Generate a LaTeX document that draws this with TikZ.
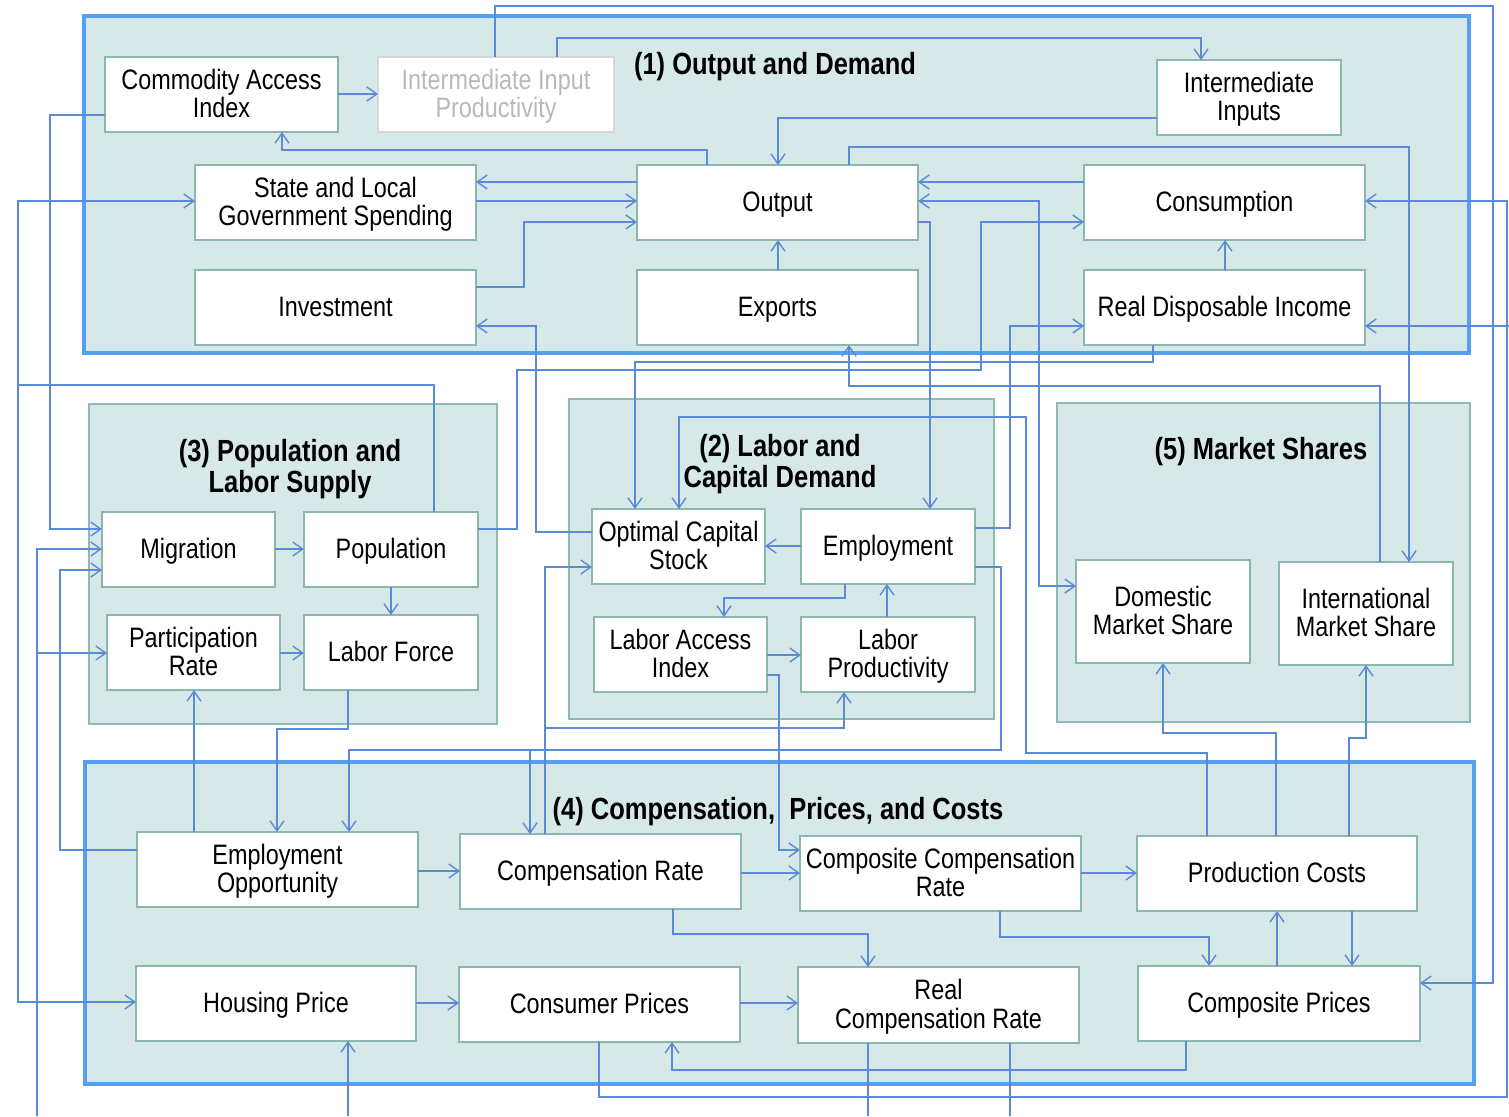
\documentclass[tikz,border=0pt]{standalone}
\usepackage{fontspec}
\setmainfont{Liberation Sans}
\usepackage{graphicx}
\usetikzlibrary{arrows.meta}
\definecolor{wire}{RGB}{91,138,214}
\definecolor{gfill}{RGB}{215,232,232}
\definecolor{gline}{RGB}{143,186,179}
\definecolor{bblue}{RGB}{85,160,240}
\definecolor{nline}{RGB}{138,184,174}
\definecolor{ghost}{RGB}{185,185,185}
\definecolor{ghostline}{RGB}{215,215,215}
\newcommand\txt[1]{\raisebox{-1.5pt}[\height][\depth]{\scalebox{1}[1.2]{\begin{tabular}{@{}c@{}}#1\end{tabular}}}}
\newcommand\ttl[1]{\raisebox{-2pt}[\height][\depth]{\scalebox{1}[1.2]{\begin{tabular}{@{}c@{}}#1\end{tabular}}}}
\newcommand\mybox[7]{\node[box,#6,minimum width={(#4-#2)*0.5pt},minimum height={(#5-#3)*0.5pt}] (#1) at ({(#2+#4)/2},{(#3+#5)/2}) {\txt{#7}};}
\newcommand\grp[6]{\node[#6,minimum width={(#4-#2)*0.5pt},minimum height={(#5-#3)*0.5pt}] (#1) at ({(#2+#4)/2},{(#3+#5)/2}) {};}
\tikzset{
  box/.style={draw=nline,fill=white,line width=0.8pt,inner sep=0pt,outer sep=0pt,
    font=\fontsize{11.7}{11.25}\selectfont},
  ghostbox/.style={draw=ghostline,text=ghost},
  grpthin/.style={draw=gline,fill=gfill,line width=0.9pt,inner sep=0pt,outer sep=0pt},
  grpthick/.style={draw=bblue,fill=gfill,line width=1.7pt,inner sep=0pt,outer sep=0pt},
  title/.style={font=\bfseries\fontsize{12.75}{12.5}\selectfont,inner sep=0pt},
  w/.style={draw=wire,line width=0.7pt},
  ar/.style={w,-{Straight Barb[length=5pt,width=7pt]}},
  arb/.style={w,{Straight Barb[length=5pt,width=7pt]}-{Straight Barb[length=5pt,width=7pt]}}
}
\begin{document}
\begin{tikzpicture}[x=0.5pt,y=-0.5pt]
\useasboundingbox[fill=white] (0,0) rectangle (1509,1116);
% groups
\grp{g1}{84}{16}{1469}{353}{grpthick}
\grp{g3}{89}{404}{497}{724}{grpthin}
\grp{g2}{569}{399}{994}{719}{grpthin}
\grp{g5}{1057}{403}{1470}{722}{grpthin}
\grp{g4}{85}{762}{1474}{1084}{grpthick}
% titles
\node[title] (t1) at (775,64) {\ttl{(1) Output and Demand}};
\node[title] (t3) at (290,466) {\ttl{(3) Population and\\Labor Supply}};
\node[title] (t2) at (780,461) {\ttl{(2) Labor and\\Capital Demand}};
\node[title] (t5) at (1261,449) {\ttl{(5) Market Shares}};
\node[title] (t4) at (778,809) {\ttl{(4) Compensation,\ \ Prices, and Costs}};
% nodes
\mybox{cai}{105}{57}{338}{132}{}{Commodity Access\\Index}
\mybox{iip}{378}{57}{614}{132}{ghostbox}{Intermediate Input\\Productivity}
\mybox{ii}{1157}{60}{1341}{135}{}{Intermediate\\Inputs}
\mybox{slgs}{195}{165}{476}{240}{}{State and Local\\Government Spending}
\mybox{out}{637}{165}{918}{240}{}{Output}
\mybox{cons}{1084}{165}{1365}{240}{}{Consumption}
\mybox{inv}{195}{270}{476}{345}{}{Investment}
\mybox{exp}{637}{270}{918}{345}{}{Exports}
\mybox{rdi}{1084}{270}{1365}{345}{}{Real Disposable Income}
\mybox{mig}{102}{512}{275}{587}{}{Migration}
\mybox{pop}{304}{512}{478}{587}{}{Population}
\mybox{pr}{107}{615}{280}{690}{}{Participation\\Rate}
\mybox{lf}{304}{615}{478}{690}{}{Labor Force}
\mybox{ocs}{592}{509}{765}{584}{}{Optimal Capital\\Stock}
\mybox{emp}{801}{509}{975}{584}{}{Employment}
\mybox{lai}{594}{617}{767}{692}{}{Labor Access\\Index}
\mybox{lp}{801}{617}{975}{692}{}{Labor\\Productivity}
\mybox{dms}{1076}{560}{1250}{663}{}{Domestic\\Market Share}
\mybox{ims}{1279}{562}{1453}{665}{}{International\\Market Share}
\mybox{eo}{137}{832}{418}{907}{}{Employment\\Opportunity}
\mybox{cr}{460}{834}{741}{909}{}{Compensation Rate}
\mybox{ccr}{800}{836}{1081}{911}{}{Composite Compensation\\Rate}
\mybox{pc}{1137}{836}{1417}{911}{}{Production Costs}
\mybox{hp}{136}{966}{416}{1041}{}{Housing Price}
\mybox{cp}{459}{967}{740}{1042}{}{Consumer Prices}
\mybox{rcr}{798}{967}{1079}{1043}{}{Real\\Compensation Rate}
\mybox{cpr}{1138}{966}{1420}{1041}{}{Composite Prices}
% free ends at the picture edge
\coordinate (eb37) at (37,1116);
\coordinate (eb348) at (348,1116);
\coordinate (eb868) at (868,1116);
\coordinate (eb1010) at (1010,1116);
\coordinate (er326) at (1509,326);
% connectors: group 1
\draw[ar] (cai.east |- 0,94) -- (iip.west |- 0,94);
\draw[ar] (iip.north -| 495,0) -- (495,6) -- (1493,6) -- (1493,983) -- (cpr.east |- 0,983);
\draw[ar] (iip.north -| 557,0) -- (557,38) -- (1201,38) -- (ii.north -| 1201,0);
\draw[ar] (ii.west |- 0,118) -- (778,118) -- (out.north -| 778,0);
\draw[ar] (out.north -| 707,0) -- (707,150) -- (282,150) -- (cai.south -| 282,0);
\draw[ar] (out.west |- 0,182) -- (slgs.east |- 0,182);
\draw[ar] (slgs.east |- 0,201) -- (out.west |- 0,201);
\draw[ar] (inv.east |- 0,287) -- (524,287) -- (524,222) -- (out.west |- 0,222);
\draw[ar] (exp.north -| 778,0) -- (out.south -| 778,0);
\draw[ar] (cons.west |- 0,182) -- (out.east |- 0,182);
\draw[arb] (dms.west |- 0,586) -- (1039,586) -- (1039,201) -- (out.east |- 0,201);
\draw[ar] (out.east |- 0,222) -- (930,222) -- (emp.north -| 930,0);
\draw[ar] (pop.east |- 0,529) -- (517,529) -- (517,370) -- (981,370) -- (981,222) -- (cons.west |- 0,222);
\draw[ar] (rdi.south -| 1153,0) -- (1153,362) -- (635,362) -- (ocs.north -| 635,0);
\draw[ar] (ims.north -| 1380,0) -- (1380,386) -- (849,386) -- (exp.south -| 849,0);
\draw[ar] (pc.north -| 1207,0) -- (1207,753) -- (1026,753) -- (1026,417) -- (679,417) -- (ocs.north -| 679,0);
\draw[ar] (ocs.west |- 0,532) -- (536,532) -- (536,326) -- (inv.east |- 0,326);
\draw[ar] (pop.north -| 434,0) -- (434,385) -- (18,385) -- (18,201) -- (slgs.west |- 0,201);
\draw[ar] (18,385) -- (18,1002) -- (hp.west |- 0,1002);
\draw[ar] (cai.west |- 0,115) -- (50,115) -- (50,529) -- (mig.west |- 0,529);
\draw[ar] (eb37) -- (37,549) -- (mig.west |- 0,549);
\draw[ar] (37,653) -- (pr.west |- 0,653);
\draw[ar] (eo.west |- 0,850) -- (60,850) -- (60,570) -- (mig.west |- 0,570);
\draw[ar] (out.north -| 849,0) -- (849,147) -- (1409,147) -- (ims.north -| 1409,0);
\draw[ar] (rdi.north -| 1225,0) -- (cons.south -| 1225,0);
% group 3
\draw[ar] (mig.east |- 0,549) -- (pop.west |- 0,549);
\draw[ar] (pop.south -| 391,0) -- (lf.north -| 391,0);
\draw[ar] (pr.east |- 0,653) -- (lf.west |- 0,653);
\draw[ar] (lf.south -| 348,0) -- (348,729) -- (277,729) -- (eo.north -| 277,0);
\draw[ar] (eo.north -| 194,0) -- (pr.south -| 194,0);
% group 2
\draw[ar] (emp.east |- 0,567) -- (1001,567) -- (1001,750) -- (349,750) -- (eo.north -| 349,0);
\draw[ar] (530,750) -- (cr.north -| 530,0);
\draw[ar] (cr.north -| 545,0) -- (545,567) -- (ocs.west |- 0,567);
\draw[ar] (545,728) -- (844,728) -- (lp.south -| 844,0);
\draw[ar] (lai.east |- 0,675) -- (779,675) -- (779,850) -- (ccr.west |- 0,850);
\draw[ar] (emp.west |- 0,546) -- (ocs.east |- 0,546);
\draw[ar] (emp.south -| 845,0) -- (845,598) -- (724,598) -- (lai.north -| 724,0);
\draw[ar] (lai.east |- 0,655) -- (lp.west |- 0,655);
\draw[ar] (lp.north -| 887,0) -- (emp.south -| 887,0);
\draw[ar] (emp.east |- 0,528) -- (1010,528) -- (1010,326) -- (rdi.west |- 0,326);
% group 4
\draw[ar] (eo.east |- 0,871) -- (cr.west |- 0,871);
\draw[ar] (cr.east |- 0,873) -- (ccr.west |- 0,873);
\draw[ar] (ccr.east |- 0,873) -- (pc.west |- 0,873);
\draw[ar] (cr.south -| 673,0) -- (673,934) -- (868,934) -- (rcr.north -| 868,0);
\draw[ar] (ccr.south -| 1000,0) -- (1000,937) -- (1209,937) -- (cpr.north -| 1209,0);
\draw[ar] (cpr.north -| 1277,0) -- (pc.south -| 1277,0);
\draw[ar] (pc.south -| 1352,0) -- (cpr.north -| 1352,0);
\draw[ar] (hp.east |- 0,1003) -- (cp.west |- 0,1003);
\draw[ar] (cp.east |- 0,1003) -- (rcr.west |- 0,1003);
\draw[ar] (cpr.south -| 1186,0) -- (1186,1070) -- (672,1070) -- (cp.south -| 672,0);
\draw[ar] (cp.south -| 599,0) -- (599,1097) -- (1507,1097) -- (1507,201) -- (cons.east |- 0,201);
\draw[ar] (er326) -- (rdi.east |- 0,326);
\draw[w] (rcr.south -| 868,0) -- (eb868);
\draw[w] (rcr.south -| 1010,0) -- (eb1010);
\draw[ar] (eb348) -- (hp.south -| 348,0);
\draw[ar] (pc.north -| 1276,0) -- (1276,733) -- (1163,733) -- (dms.south -| 1163,0);
\draw[ar] (pc.north -| 1349,0) -- (1349,738) -- (1366,738) -- (ims.south -| 1366,0);
\end{tikzpicture}
\end{document}
